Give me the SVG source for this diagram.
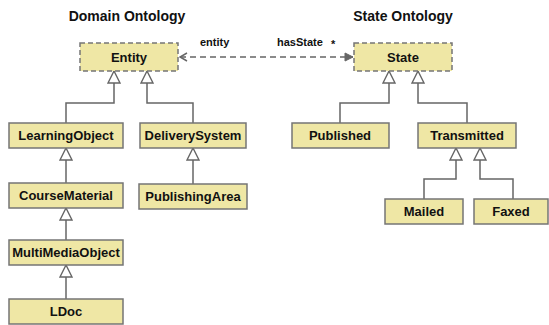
<svg xmlns="http://www.w3.org/2000/svg" width="549" height="325" viewBox="0 0 549 325">
<style>
  .box { fill: #efe7a5; stroke: #757575; stroke-width: 1.5; }
  .abs { stroke-dasharray: 5 3; }
  .lbl { font-family: "Liberation Sans", Arial, sans-serif; font-weight: bold; font-size: 13px; fill: #111; text-anchor: middle; }
  .title { font-family: "Liberation Sans", Arial, sans-serif; font-weight: bold; font-size: 14px; fill: #111; text-anchor: middle; }
  .small { font-family: "Liberation Sans", Arial, sans-serif; font-weight: bold; font-size: 11px; fill: #111; }
  .gen { fill: none; stroke: #666; stroke-width: 1.5; marker-end: url(#tri); }
  .assoc { fill: none; stroke: #666; stroke-width: 1.5; stroke-dasharray: 6 4; }
</style>
<defs>
  <marker id="tri" markerUnits="userSpaceOnUse" markerWidth="14" markerHeight="14" refX="12" refY="6" orient="auto" viewBox="-1 -1 14 14">
    <path d="M0,0 L12,6 L0,12 Z" fill="#fff" stroke="#666" stroke-width="1.4"/>
  </marker>
  <marker id="openArrow" markerUnits="userSpaceOnUse" markerWidth="10" markerHeight="10" refX="0" refY="4" orient="auto" viewBox="-1 -1 10 10">
    <path d="M7,0 L0,4 L7,8" fill="none" stroke="#666" stroke-width="1.5"/>
  </marker>
  <marker id="fillArrow" markerUnits="userSpaceOnUse" markerWidth="10" markerHeight="10" refX="8" refY="4" orient="auto" viewBox="-1 -1 10 10">
    <path d="M0,0 L8,4 L0,8 Z" fill="#666" stroke="#666" stroke-width="1"/>
  </marker>
</defs>

<text class="title" x="127" y="21">Domain Ontology</text>
<text class="title" x="403" y="21">State Ontology</text>

<g id="connectors">
  <path class="gen" d="M66 123 V103 H114 V71"/>
  <path class="gen" d="M193 123 V103 H147 V71"/>
  <path class="gen" d="M66 183 V148"/>
  <path class="gen" d="M193 184 V148"/>
  <path class="gen" d="M66 240 V208"/>
  <path class="gen" d="M66 299 V265"/>
  <path class="gen" d="M340 123 V103 H389 V71"/>
  <path class="gen" d="M467 123 V103 H418 V71"/>
  <path class="gen" d="M424 199 V179 H456 V148"/>
  <path class="gen" d="M513 199 V179 H480 V148"/>
  <path class="assoc" d="M180 57 H353" marker-start="url(#openArrow)" marker-end="url(#fillArrow)"/>
  <text class="small" x="200" y="46">entity</text>
  <text class="small" x="277" y="46">hasState</text>
  <text class="small" x="331" y="48">*</text>
</g>

<g id="Entity">
  <rect class="box abs" x="80" y="43" width="98" height="28"/>
  <text class="lbl" x="129" y="62">Entity</text>
</g>
<g id="LearningObject">
  <rect class="box" x="9" y="123" width="114" height="25"/>
  <text class="lbl" x="66" y="140">LearningObject</text>
</g>
<g id="DeliverySystem">
  <rect class="box" x="140" y="123" width="106" height="25"/>
  <text class="lbl" x="193" y="140">DeliverySystem</text>
</g>
<g id="CourseMaterial">
  <rect class="box" x="9" y="183" width="114" height="25"/>
  <text class="lbl" x="66" y="200">CourseMaterial</text>
</g>
<g id="PublishingArea">
  <rect class="box" x="139" y="184" width="108" height="25"/>
  <text class="lbl" x="193" y="201">PublishingArea</text>
</g>
<g id="MultiMediaObject">
  <rect class="box" x="9" y="240" width="114" height="25"/>
  <text class="lbl" x="66" y="257">MultiMediaObject</text>
</g>
<g id="LDoc">
  <rect class="box" x="9" y="299" width="114" height="25"/>
  <text class="lbl" x="66" y="316">LDoc</text>
</g>
<g id="State">
  <rect class="box abs" x="354" y="43" width="98" height="28"/>
  <text class="lbl" x="403" y="62">State</text>
</g>
<g id="Published">
  <rect class="box" x="292" y="123" width="97" height="25"/>
  <text class="lbl" x="340" y="140">Published</text>
</g>
<g id="Transmitted">
  <rect class="box" x="418" y="123" width="98" height="25"/>
  <text class="lbl" x="467" y="140">Transmitted</text>
</g>
<g id="Mailed">
  <rect class="box" x="385" y="199" width="78" height="25"/>
  <text class="lbl" x="424" y="216">Mailed</text>
</g>
<g id="Faxed">
  <rect class="box" x="474" y="199" width="74" height="25"/>
  <text class="lbl" x="511" y="216">Faxed</text>
</g>
</svg>
